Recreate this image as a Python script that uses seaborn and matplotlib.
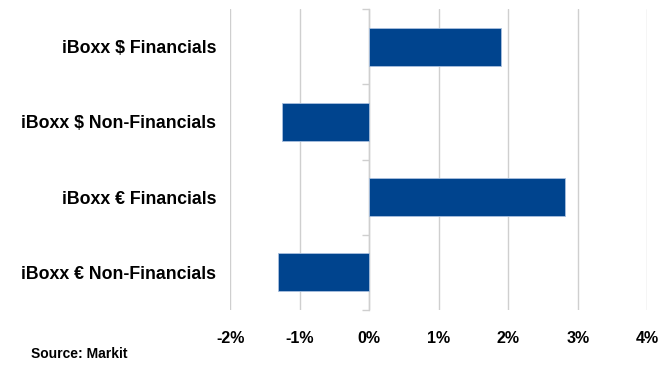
import matplotlib
matplotlib.use("Agg")
import matplotlib.pyplot as plt
import seaborn as sns
import pandas as pd
from matplotlib.ticker import FuncFormatter, FixedLocator

categories = ["iBoxx $ Financials", "iBoxx $ Non-Financials",
              "iBoxx € Financials", "iBoxx € Non-Financials"]
values = [1.90, -1.26, 2.81, -1.31]
xticks = [-2, -1, 0, 1, 2, 3, 4]
source_text = "Source: Markit"

df = pd.DataFrame({"category": categories, "value": values})

sns.set_theme(style="white")
plt.rcParams["font.family"] = ["Liberation Sans", "DejaVu Sans"]

fig = plt.figure(figsize=(6.69, 3.65), dpi=100)
ax = fig.add_axes([0.344, 0.151, 0.6235, 0.824])

sns.barplot(data=df, x="value", y="category", orient="h", color="#00448E",
            saturation=1, width=0.5, edgecolor="#a9c0de", linewidth=0.6,
            ax=ax, zorder=3)

ax.set_xlim(xticks[0], xticks[-1])
ax.set_ylim(len(categories) - 0.5, -0.5)
ax.xaxis.set_major_locator(FixedLocator(xticks))
ax.xaxis.set_major_formatter(FuncFormatter(lambda v, p: f"{v:.0f}%"))
ax.grid(axis="x", color="#cfcfcf", linewidth=1.0, zorder=0)
ax.grid(axis="y", visible=False)
for s in ax.spines.values():
    s.set_visible(False)
ax.set_xlabel("")
ax.set_ylabel("")
ax.tick_params(axis="x", length=0, pad=15, labelsize=11.5)
ax.tick_params(axis="y", length=0, pad=10, labelsize=12.8)
for lab in ax.get_xticklabels() + ax.get_yticklabels():
    lab.set_fontweight("bold")
    lab.set_color("black")

# category axis drawn at the 0% line
x0 = (0 - xticks[0]) / (xticks[-1] - xticks[0])
sec = ax.secondary_yaxis(x0)
sec.set_yticks([i - 0.5 for i in range(len(categories) + 1)])
sec.set_yticklabels([])
sec.tick_params(axis="y", length=5, width=1.0, color="#cfcfcf", direction="out")
sec.spines["left"].set_color("#cfcfcf")
sec.spines["left"].set_linewidth(1.0)

fig.text(0.046, 0.012, source_text, fontsize=10, fontweight="bold",
         color="black", ha="left", va="bottom")

fig.savefig("out.png", dpi=100)
